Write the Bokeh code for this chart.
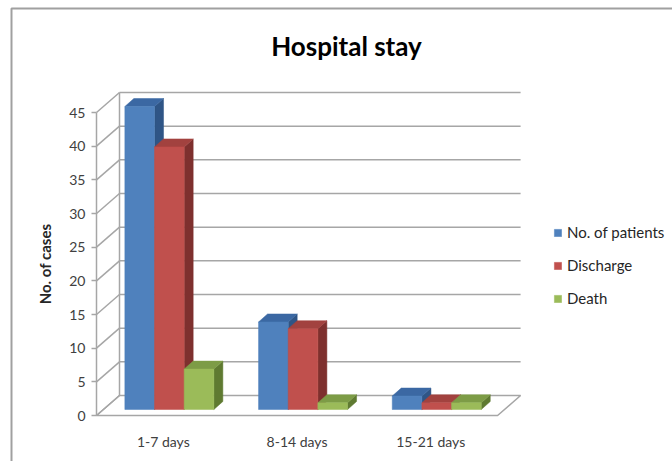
from bokeh.plotting import figure
from bokeh.models import (LinearAxis, FixedTicker, Range1d, Legend, LegendItem,
                          ColumnDataSource, Label)
from bokeh.embed import file_html
from bokeh.resources import INLINE

# ---- data ----
categories = ["1-7 days", "8-14 days", "15-21 days"]
series_names = ["No. of patients", "Discharge", "Death"]
no_of_patients = [45, 13, 2]
discharge = [39, 12, 1]
death = [6, 1, 1]
y_ticks = [0, 5, 10, 15, 20, 25, 30, 35, 40, 45]

series_values = [no_of_patients, discharge, death]
front_colors = ["#4F81BD", "#C0504D", "#9BBB59"]
top_colors = ["#3B68A3", "#A2423F", "#7D9C46"]
side_colors = ["#2F5586", "#7E302E", "#5F7A31"]

W, H = 672, 461
x0_px, y0_px = 96, 415          # front-floor origin in pixels
px_per_cat = 133.7
px_per_unit = 6.733

p = figure(width=W, height=H, output_backend="svg", toolbar_location=None,
           x_axis_type=None, y_axis_type=None,
           min_border=0, min_border_left=0, min_border_right=0,
           min_border_top=0, min_border_bottom=0)
p.x_range = Range1d(-x0_px / px_per_cat, (W - x0_px) / px_per_cat)
p.y_range = Range1d(-(H - y0_px) / px_per_unit, y0_px / px_per_unit)
p.xgrid.visible = False
p.ygrid.visible = False
p.outline_line_color = None
p.background_fill_color = "white"
p.border_fill_color = "white"

def dx(px):
    return px / px_per_cat

def dy(px):
    return px / px_per_unit

ncat = len(categories)
ymax = max(y_ticks)
DX, DY = dx(23), dy(20)          # full depth of the floor
grid_col = "#A6A6A6"

# outer chart border
p.line(x=[dx(-85), dx(-85), dx(700)], y=[dy(-60), dy(407), dy(407)],
       line_color="#A0A0A0", line_width=2)

# floor
p.patch(x=[0, ncat, ncat + DX, DX], y=[0, 0, DY, DY],
        fill_color="white", line_color=grid_col, line_width=1.5)

# back wall gridlines
p.multi_line(xs=[[DX, ncat + DX] for t in y_ticks if t > 0],
             ys=[[t + DY, t + DY] for t in y_ticks if t > 0],
             line_color=grid_col, line_width=1.5)
# side wall diagonals
p.multi_line(xs=[[0, DX] for t in y_ticks],
             ys=[[t, t + DY] for t in y_ticks],
             line_color=grid_col, line_width=1.5)
# back wall left edge
p.line(x=[DX, DX], y=[DY, ymax + DY], line_color=grid_col, line_width=1.5)

# bars (3D)
group_w = 89 / px_per_cat
bar_w = group_w / 3
f_dx, f_dy = dx(6), dy(6)        # bar front plane offset into depth
b_dx, b_dy = dx(9), dy(8)        # bar depth
legend_items = []
for s, vals in enumerate(series_values):
    lefts = [i + 0.5 - group_w / 2 + s * bar_w + f_dx for i in range(ncat)]
    rights = [l + bar_w for l in lefts]
    tops = [v + f_dy for v in vals]
    bottoms = [f_dy] * ncat
    # side faces
    p.patches(xs=[[r, r + b_dx, r + b_dx, r] for r in rights],
              ys=[[b, b + b_dy, t + b_dy, t] for b, t in zip(bottoms, tops)],
              fill_color=side_colors[s], line_color=side_colors[s], line_width=0.5)
    # top faces
    p.patches(xs=[[l, r, r + b_dx, l + b_dx] for l, r in zip(lefts, rights)],
              ys=[[t, t, t + b_dy, t + b_dy] for t in tops],
              fill_color=top_colors[s], line_color=top_colors[s], line_width=0.5)
    # front faces
    r = p.quad(left=lefts, right=rights, bottom=bottoms, top=tops,
               fill_color=front_colors[s], line_color=front_colors[s], line_width=0.5)
    legend_items.append(LegendItem(label=series_names[s], renderers=[r]))

# y axis at the front
yaxis = LinearAxis(fixed_location=0, ticker=FixedTicker(ticks=y_ticks),
                   bounds=(0, ymax))
yaxis.axis_line_color = grid_col
yaxis.axis_line_width = 1.5
yaxis.major_tick_line_color = grid_col
yaxis.major_tick_line_width = 1.5
yaxis.major_tick_out = 5
yaxis.major_tick_in = 0
yaxis.minor_tick_line_color = None
yaxis.major_label_text_font = "Lato"
yaxis.major_label_text_font_size = "14px"
yaxis.major_label_text_color = "#404040"
yaxis.major_label_standoff = 6
yaxis.axis_label = "No. of cases"
yaxis.axis_label_text_font = "Lato"
yaxis.axis_label_text_font_size = "15px"
yaxis.axis_label_text_font_style = "bold"
yaxis.axis_label_text_color = "#262626"
yaxis.axis_label_standoff = 12
p.add_layout(yaxis, "left")

# category axis
xaxis = LinearAxis(fixed_location=0,
                   ticker=FixedTicker(ticks=[i + 0.5 for i in range(ncat)]),
                   major_label_overrides={i + 0.5: c for i, c in enumerate(categories)})
xaxis.axis_line_color = None
xaxis.major_tick_line_color = None
xaxis.minor_tick_line_color = None
xaxis.major_label_text_font = "Lato"
xaxis.major_label_text_font_size = "14px"
xaxis.major_label_text_color = "#404040"
xaxis.major_label_standoff = 11
p.add_layout(xaxis, "below")

# title
p.add_layout(Label(x=dx(346 - x0_px), y=dy(y0_px - 45), text="Hospital stay",
                   text_align="center", text_baseline="middle",
                   text_font="Lato", text_font_size="26px",
                   text_font_style="bold", text_color="#000000"))

legend = Legend(items=legend_items, location=(553, 153),
                glyph_width=9, glyph_height=9, label_height=20, spacing=13,
                padding=0, margin=0, label_standoff=5,
                label_text_font="Lato", label_text_font_size="15px",
                label_text_color="#262626",
                border_line_color=None, background_fill_alpha=0)
p.add_layout(legend)

open("out.html", "w").write(file_html(p, INLINE))
